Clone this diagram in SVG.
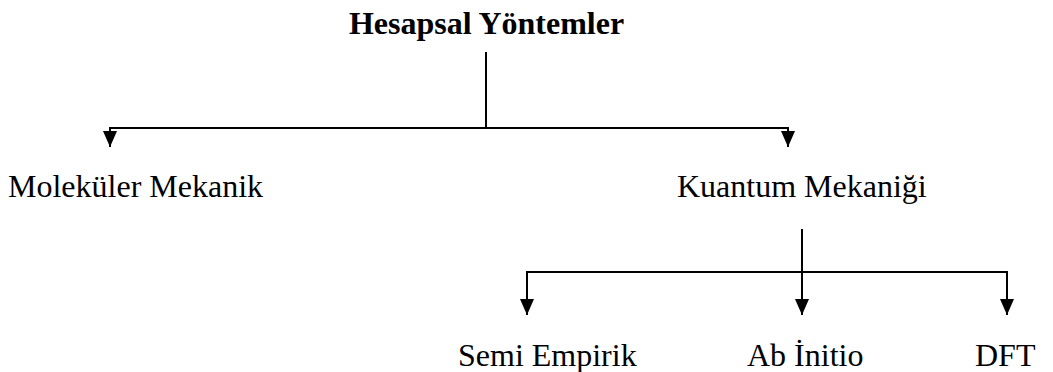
<svg xmlns="http://www.w3.org/2000/svg" width="1053" height="372" viewBox="0 0 1053 372">
<style>
text{font-family:"Liberation Serif","Times New Roman",serif;font-size:32px;fill:#000}
.b{font-weight:bold}
.c{fill:none;stroke:#000;stroke-width:2}
</style>
<defs>
<marker id="ah" markerUnits="userSpaceOnUse" markerWidth="17" markerHeight="15" refX="16" refY="7" orient="auto" viewBox="0 0 17 15">
<path d="M0,0 L16,7 L0,14 z" fill="#000"/>
</marker>
</defs>
<rect width="1053" height="372" fill="#fff"/>
<g id="connectors">
<path class="c" d="M486,52 V128"/>
<path class="c" d="M486,128 H110 V147" marker-end="url(#ah)"/>
<path class="c" d="M486,128 H788 V147" marker-end="url(#ah)"/>
<path class="c" d="M802,229 V315" marker-end="url(#ah)"/>
<path class="c" d="M802,272 H527 V315" marker-end="url(#ah)"/>
<path class="c" d="M802,272 H1007 V315" marker-end="url(#ah)"/>
</g>
<g id="n-hesapsal"><text class="b" x="486.5" y="34" text-anchor="middle">Hesapsal Yöntemler</text></g>
<g id="n-molekuler"><text x="8" y="197">Moleküler Mekanik</text></g>
<g id="n-kuantum"><text x="677" y="197">Kuantum Mekaniği</text></g>
<g id="n-semi"><text x="458" y="366">Semi Empirik</text></g>
<g id="n-abinitio"><text x="747" y="366">Ab İnitio</text></g>
<g id="n-dft"><text x="975" y="366">DFT</text></g>
</svg>
